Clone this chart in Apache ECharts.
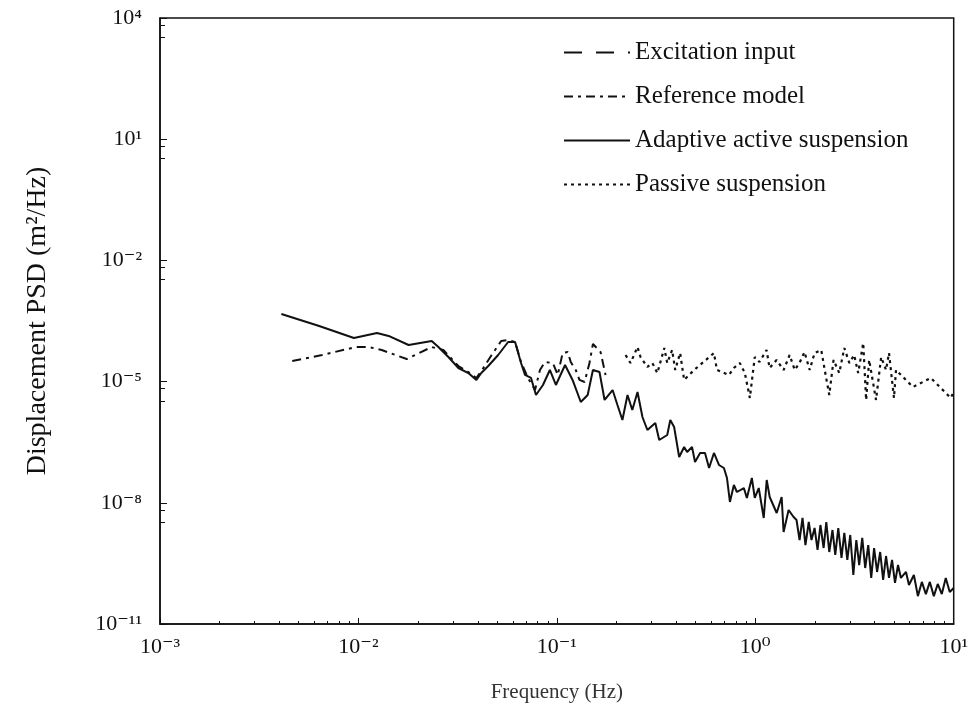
<!DOCTYPE html>
<html>
<head>
<meta charset="utf-8">
<script src="https://cdn.jsdelivr.net/npm/echarts@6/dist/echarts.min.js"></script>
<style>
html,body{margin:0;padding:0;background:#fff;}
#chart{width:971px;height:711px;}
</style>
</head>
<body>
<div id="chart"></div>
<script>
// ---- data (frequency in Hz, displacement PSD in m^2/Hz) ----
var seriesNames = ['Excitation input', 'Reference model', 'Adaptive active suspension', 'Passive suspension'];
var xTickLabels = ['10⁻³', '10⁻²', '10⁻¹', '10⁰', '10¹'];
var xTickExponents = [-3, -2, -1, 0, 1];
var yTickLabels = ['10⁻¹¹', '10⁻⁸', '10⁻⁵', '10⁻²', '10¹', '10⁴'];
var yTickExponents = [-11, -8, -5, -2, 1, 4];

var excitationInput = [];

var referenceModel = [
  [4.64e-3,3.24e-5],[6.56e-3,4.55e-5],[9.71e-3,7.18e-5],[1.13e-2,7.18e-5],[1.31e-2,6.05e-5],
  [1.75e-2,3.62e-5],[2.34e-2,7.18e-5],[2.68e-2,6.05e-5],[3.19e-2,2.43e-5],[3.58e-2,1.73e-5],
  [3.93e-2,1.23e-5],[4.26e-2,2.17e-5],[4.62e-2,4.06e-5],[5.24e-2,1.01e-4],[5.68e-2,1.07e-4],
  [6.16e-2,9.55e-5],[6.6e-2,3.05e-5],[7.15e-2,1.23e-5],[7.76e-2,6.19e-6],[8.22e-2,1.94e-5],
  [8.71e-2,3.05e-5],[9.55e-2,2.88e-5],[0.101,1.46e-5],[0.107,5.1e-5],[0.1135,5.4e-5],
  [0.1175,3.05e-5],[0.1245,1.94e-5],[0.130,1.1e-5],[0.138,9.77e-6],[0.146,2.88e-5],
  [0.152,8.53e-5],[0.166,5.4e-5],[0.176,1.46e-5]
];

var adaptiveActive = [
  [4.09e-3,4.71e-4],[6.34e-3,2.38e-4],[9.49e-3,1.2e-4],[1.24e-2,1.6e-4],[1.42e-2,1.35e-4],
  [1.79e-2,8.05e-5],[2.34e-2,1.01e-4],[2.53e-2,7.18e-5],[2.84e-2,4.06e-5],[3.19e-2,2.17e-5],
  [3.58e-2,1.63e-5],[3.93e-2,1.1e-5],[4.16e-2,1.63e-5],[4.51e-2,2.43e-5],[5.06e-2,4.55e-5],
  [5.68e-2,9.55e-5],[6.16e-2,9.55e-5],[6.6e-2,2.88e-5],[6.91e-2,1.46e-5],[7.41e-2,1.23e-5],
  [7.85e-2,4.66e-6],[8.51e-2,8.24e-6],[9.22e-2,1.94e-5],[9.89e-2,8.24e-6],[0.110,2.58e-5],
  [0.120,1.1e-5],[0.132,3.13e-6],[0.143,4.66e-6],[0.152,1.94e-5],[0.164,1.73e-5],
  [0.174,3.51e-6],[0.191,6.19e-6],[0.202,2.64e-6],[0.214,1.12e-6],[0.227,4.66e-6],
  [0.240,1.98e-6],[0.255,5.53e-6],[0.270,1.33e-6],[0.286,6.34e-7],[0.3135,9.44e-7],
  [0.328,3.58e-7],[0.360,4.77e-7],[0.373,1.12e-6],[0.390,7.52e-7],[0.4135,1.36e-7],
  [0.438,2.4e-7],[0.4535,1.81e-7],[0.480,2.4e-7],[0.497,1.02e-7],[0.527,1.71e-7],
  [0.558,1.71e-7],[0.585,7.26e-8],[0.619,1.71e-7],[0.656,8.63e-8],[0.695,7.26e-8],
  [0.720,4.11e-8],[0.745,1.05e-8],[0.780,2.76e-8],[0.808,1.85e-8],[0.876,2.32e-8],
  [0.907,1.32e-8],[0.961,4.11e-8],[0.994,1.32e-8],[1.041,2.32e-8],[1.103,4.21e-9],
  [1.142,3.66e-8],[1.182,1.39e-8],[1.282,5.6e-9],[1.358,1.39e-8],[1.389,1.89e-9],
  [1.472,6.64e-9],[1.560,4.46e-9],[1.614,3.75e-9],[1.672,1.2e-9],[1.73,4.21e-9],
  [1.79,9.0e-10],[1.86,3.35e-9],[1.92,1.2e-9],[1.99,2.38e-9],[2.06,6.8e-10],
  [2.13,2.82e-9],[2.21,7.6e-10],[2.28,3.35e-9],[2.36,6.05e-10],[2.45,2.12e-9],
  [2.53,5.1e-10],[2.62,2.38e-9],[2.72,4.31e-10],[2.81,1.79e-9],[2.91,3.84e-10],
  [3.01,1.6e-9],[3.12,1.63e-10],[3.23,1.2e-9],[3.34,2.88e-10],[3.46,1.35e-9],
  [3.58,2.43e-10],[3.71,9.0e-10],[3.84,1.38e-10],[3.97,7.6e-10],[4.11,1.94e-10],
  [4.26,6.05e-10],[4.41,1.23e-10],[4.56,4.82e-10],[4.72,1.38e-10],[4.89,3.84e-10],
  [5.06,1.04e-10],[5.24,2.88e-10],[5.42,1.38e-10],[5.75,1.94e-10],[5.95,9.2e-11],
  [6.30,1.63e-10],[6.60,4.9e-11],[6.91,1.1e-10],[7.24,5.5e-11],[7.58,1.1e-10],
  [7.94,4.9e-11],[8.31,9.8e-11],[8.71,5.5e-11],[9.12,1.38e-10],[9.55,6.2e-11],[10,7.8e-11]
];

var passiveSuspension = [
  [0.222,4.55e-5],[0.235,2.88e-5],[0.255,7.18e-5],[0.264,4.06e-5],[0.286,2.3e-5],
  [0.303,2.88e-5],[0.321,1.63e-5],[0.348,6.79e-5],[0.36,2.88e-5],[0.381,6.05e-5],
  [0.395,1.94e-5],[0.418,5.1e-5],[0.438,1.1e-5],[0.492,1.94e-5],[0.619,5.1e-5],
  [0.641,1.94e-5],[0.737,1.46e-5],[0.78,2.17e-5],[0.836,2.88e-5],[0.886,1.63e-5],
  [0.939,3.93e-6],[0.994,4.06e-5],[1.05,3.05e-5],[1.14,6.05e-5],[1.18,2.17e-5],
  [1.28,3.43e-5],[1.39,1.94e-5],[1.49,4.55e-5],[1.58,1.94e-5],[1.67,2.88e-5],
  [1.77,5.4e-5],[1.88,1.94e-5],[1.99,5.1e-5],[2.15,6.05e-5],[2.23,2.17e-5],
  [2.36,4.66e-6],[2.48,3.43e-5],[2.65,1.63e-5],[2.81,6.79e-5],[2.98,2.88e-5],
  [3.15,4.55e-5],[3.30,1.63e-5],[3.50,9.02e-5],[3.62,3.51e-6],[3.75,3.43e-5],
  [4.06,3.51e-6],[4.31,4.06e-5],[4.56,1.94e-5],[4.72,5.1e-5],[5.00,3.93e-6],
  [5.12,1.94e-5],[6.23,7.35e-6],[7.67,1.23e-5],[9.66,3.93e-6],[10,5.53e-6]
];

// ---- chart ----
var serif = '"Liberation Serif", "DejaVu Serif", serif';
function expOf(v){ return Math.round(Math.log(v)/Math.LN10); }
function labelFor(v, exps, labels){
  var i = exps.indexOf(expOf(v));
  return i >= 0 ? labels[i] : '';
}

var chart = echarts.init(document.getElementById('chart'), null, {renderer:'canvas'});
chart.setOption({
  animation:false,
  backgroundColor:'#ffffff',
  grid:{left:160, right:13, top:18, bottom:87, show:true, borderColor:'#111', borderWidth:1.5, backgroundColor:'transparent'},
  legend:{
    orient:'vertical', left:558, top:35, itemGap:19, itemWidth:66, itemHeight:14,
    itemStyle:{opacity:0},
    textStyle:{fontFamily:serif, fontSize:25, color:'#111'},
    data:seriesNames
  },
  xAxis:{
    type:'log', logBase:10, min:1e-3, max:10, interval:1,
    name:'Frequency (Hz)', nameLocation:'middle', nameGap:58,
    nameTextStyle:{fontFamily:serif, fontSize:21, color:'#333'},
    axisLine:{lineStyle:{color:'#111', width:1.5}},
    axisTick:{inside:true, length:6, lineStyle:{color:'#111'}},
    minorTick:{show:true, splitNumber:9, length:3, lineStyle:{color:'#111'}},
    axisLabel:{fontFamily:serif, fontSize:22, color:'#111', margin:12,
      formatter:function(v){ return labelFor(v, xTickExponents, xTickLabels); }},
    splitLine:{show:false}
  },
  yAxis:{
    type:'log', logBase:10, min:1e-11, max:1e4, interval:3,
    name:'Displacement PSD (m²/Hz)', nameLocation:'middle', nameGap:108, nameRotate:90,
    nameTextStyle:{fontFamily:serif, fontSize:28, color:'#111'},
    axisLine:{lineStyle:{color:'#111', width:1.5}},
    axisTick:{inside:true, length:7, lineStyle:{color:'#111'}},
    minorTick:{show:true, splitNumber:3, length:5, lineStyle:{color:'#111'}},
    axisLabel:{fontFamily:serif, fontSize:22, color:'#111', margin:18,
      formatter:function(v){ return labelFor(v, yTickExponents, yTickLabels); }},
    splitLine:{show:false}
  },
  series:[
    {name:seriesNames[0], type:'line', data:excitationInput, symbol:'none',
      lineStyle:{color:'#111', width:3, type:[18,14]}, itemStyle:{color:'#111'}},
    {name:seriesNames[1], type:'line', data:referenceModel, symbol:'none', z:3,
      lineStyle:{color:'#111', width:2, type:[9,5,3,5]}, itemStyle:{color:'#111'}},
    {name:seriesNames[2], type:'line', data:adaptiveActive, symbol:'none', z:4,
      lineStyle:{color:'#111', width:2}, itemStyle:{color:'#111'}},
    {name:seriesNames[3], type:'line', data:passiveSuspension, symbol:'none', z:2,
      lineStyle:{color:'#111', width:2.2, type:[3,4]}, itemStyle:{color:'#111'}}
  ]
});
</script>
</body>
</html>
